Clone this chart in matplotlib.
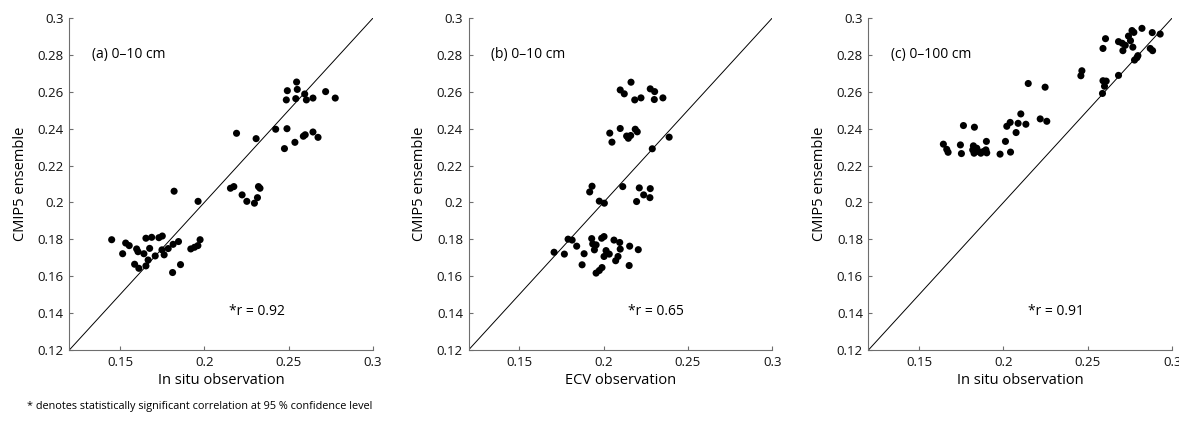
import matplotlib
matplotlib.use("Agg")
import matplotlib.pyplot as plt
from matplotlib.ticker import FormatStrFormatter

plt.rcParams['font.family'] = ['Open Sans', 'DejaVu Sans']

# Panel (a): in situ observation vs CMIP5 ensemble, 0-10 cm
a_x = [0.2547, 0.2492, 0.2551, 0.2486, 0.2542, 0.2595, 0.2605, 0.2644, 0.2719, 0.2776,
       0.2191, 0.2307, 0.2423, 0.2490, 0.2475, 0.2537, 0.2587, 0.2598, 0.2644, 0.2674,
       0.2155, 0.2175, 0.2224, 0.2252, 0.2297, 0.2315, 0.2321, 0.2330, 0.1821, 0.1963,
       0.1451, 0.1516, 0.1534, 0.1555, 0.1599, 0.1607, 0.1587, 0.1612, 0.1642, 0.1654,
       0.1654, 0.1667, 0.1676, 0.1688, 0.1709, 0.1731, 0.1751, 0.1749, 0.1762, 0.1786,
       0.1815, 0.1847, 0.1812, 0.1859, 0.1920, 0.1942, 0.1962, 0.1975]
a_y = [0.2653, 0.2606, 0.2613, 0.2556, 0.2563, 0.2588, 0.2556, 0.2566, 0.2601, 0.2566,
       0.2375, 0.2346, 0.2397, 0.2400, 0.2292, 0.2326, 0.2359, 0.2367, 0.2382, 0.2353,
       0.2077, 0.2086, 0.2041, 0.2006, 0.1996, 0.2026, 0.2086, 0.2077, 0.2061, 0.2006,
       0.1798, 0.1722, 0.1780, 0.1766, 0.1748, 0.1733, 0.1665, 0.1643, 0.1722, 0.1806,
       0.1656, 0.1688, 0.1751, 0.1811, 0.1710, 0.1809, 0.1818, 0.1743, 0.1716, 0.1750,
       0.1773, 0.1788, 0.1620, 0.1663, 0.1748, 0.1757, 0.1766, 0.1798]

# Panel (b): ECV observation vs CMIP5 ensemble, 0-10 cm
b_x = [0.2163, 0.2099, 0.2123, 0.2185, 0.2222, 0.2277, 0.2303, 0.2301, 0.2352,
       0.2037, 0.2050, 0.2099, 0.2137, 0.2147, 0.2161, 0.2188, 0.2200, 0.2289, 0.2389,
       0.1918, 0.1932, 0.1975, 0.2005, 0.2114, 0.2196, 0.2212, 0.2238, 0.2277, 0.2275,
       0.1707, 0.1768, 0.1790, 0.1814, 0.1841, 0.1885, 0.1873, 0.1930, 0.1936, 0.1946,
       0.1956, 0.1956, 0.1975, 0.1991, 0.1989, 0.2003, 0.2003, 0.2015, 0.2034, 0.2062,
       0.2072, 0.2086, 0.2096, 0.2099, 0.2155, 0.2152, 0.2206]
b_y = [0.2652, 0.2610, 0.2589, 0.2556, 0.2567, 0.2616, 0.2601, 0.2558, 0.2567,
       0.2376, 0.2327, 0.2401, 0.2360, 0.2348, 0.2363, 0.2397, 0.2383, 0.2291, 0.2354,
       0.2057, 0.2088, 0.2007, 0.1996, 0.2086, 0.2005, 0.2079, 0.2041, 0.2075, 0.2026,
       0.1730, 0.1720, 0.1801, 0.1796, 0.1763, 0.1722, 0.1662, 0.1804, 0.1775, 0.1743,
       0.1770, 0.1617, 0.1631, 0.1647, 0.1806, 0.1815, 0.1707, 0.1739, 0.1720, 0.1796,
       0.1684, 0.1707, 0.1783, 0.1747, 0.1763, 0.1658, 0.1744]

# Panel (c): in situ observation vs CMIP5 ensemble, 0-100 cm
c_x = [0.2821, 0.2762, 0.2773, 0.2882, 0.2929, 0.2741, 0.2605, 0.2753, 0.2682, 0.2704,
       0.2722, 0.2767, 0.2590, 0.2708, 0.2870, 0.2884, 0.2797, 0.2777, 0.2791,
       0.2465, 0.2459, 0.2590, 0.2609, 0.2682, 0.2599, 0.2587, 0.2147, 0.2247,
       0.2103, 0.2040, 0.2020, 0.2087, 0.2133, 0.2075, 0.2218, 0.2257, 0.2012, 0.2042,
       0.1980, 0.1763, 0.1828, 0.1644, 0.1664, 0.1672, 0.1745, 0.1751, 0.1822, 0.1818,
       0.1826, 0.1842, 0.1852, 0.1866, 0.1881, 0.1896, 0.1899, 0.1901]
c_y = [0.2944, 0.2932, 0.2922, 0.2921, 0.2913, 0.2902, 0.2888, 0.2877, 0.2872, 0.2863,
       0.2852, 0.2842, 0.2835, 0.2823, 0.2835, 0.2823, 0.2796, 0.2772, 0.2785,
       0.2714, 0.2687, 0.2660, 0.2658, 0.2689, 0.2630, 0.2591, 0.2645, 0.2625,
       0.2480, 0.2434, 0.2413, 0.2429, 0.2424, 0.2379, 0.2453, 0.2440, 0.2331, 0.2273,
       0.2262, 0.2417, 0.2408, 0.2316, 0.2288, 0.2272, 0.2312, 0.2265, 0.2307, 0.2285,
       0.2267, 0.2294, 0.2276, 0.2267, 0.2276, 0.2285, 0.2331, 0.2269]

panel_labels = ["(a) 0\u201310 cm", "(b) 0\u201310 cm", "(c) 0\u2013100 cm"]
r_labels = ["*r = 0.92", "*r = 0.65", "*r = 0.91"]
x_labels = ["In situ observation", "ECV observation", "In situ observation"]
y_label = "CMIP5 ensemble"
x_ticks = [0.15, 0.2, 0.25, 0.3]
y_ticks = [0.12, 0.14, 0.16, 0.18, 0.2, 0.22, 0.24, 0.26, 0.28, 0.3]
lims = [0.12, 0.3]
footnote = "* denotes statistically significant correlation at 95 % confidence level"

fig = plt.figure(figsize=(11.79, 4.26), dpi=100)
lefts = [0.0588, 0.3974, 0.7366]
bottom, width, height = 0.1784, 0.2576, 0.7793
spine_c = '#6e6e6e'

data = [(a_x, a_y), (b_x, b_y), (c_x, c_y)]
for i, (xs, ys) in enumerate(data):
    ax = fig.add_axes([lefts[i], bottom, width, height])
    ax.plot(lims, lims, color='black', lw=0.7, zorder=1)
    ax.scatter(xs, ys, s=26, color='black', edgecolors='none', zorder=2)
    ax.set_xlim(lims)
    ax.set_ylim(lims)
    ax.set_xticks(x_ticks)
    ax.set_yticks(y_ticks)
    ax.xaxis.set_major_formatter(FormatStrFormatter('%g'))
    ax.yaxis.set_major_formatter(FormatStrFormatter('%g'))
    for s in ['top', 'right']:
        ax.spines[s].set_visible(False)
    for s in ['left', 'bottom']:
        ax.spines[s].set_color(spine_c)
        ax.spines[s].set_linewidth(0.8)
    ax.tick_params(direction='in', length=3, width=0.8, color=spine_c,
                   labelsize=9.5, labelcolor='#111111', pad=4)
    ax.set_xlabel(x_labels[i], fontsize=10.5, labelpad=3)
    ax.set_ylabel(y_label, fontsize=10.5, labelpad=7)
    ax.text(0.1335, 0.28, panel_labels[i], fontsize=10, va='center', ha='left')
    ax.text(0.2145, 0.141, r_labels[i], fontsize=10, va='center', ha='left')

fig.text(27 / 1179, 1 - 407 / 426, footnote, fontsize=7.8, fontweight='medium',
         va='center', ha='left')

fig.savefig("out.png", dpi=100)
